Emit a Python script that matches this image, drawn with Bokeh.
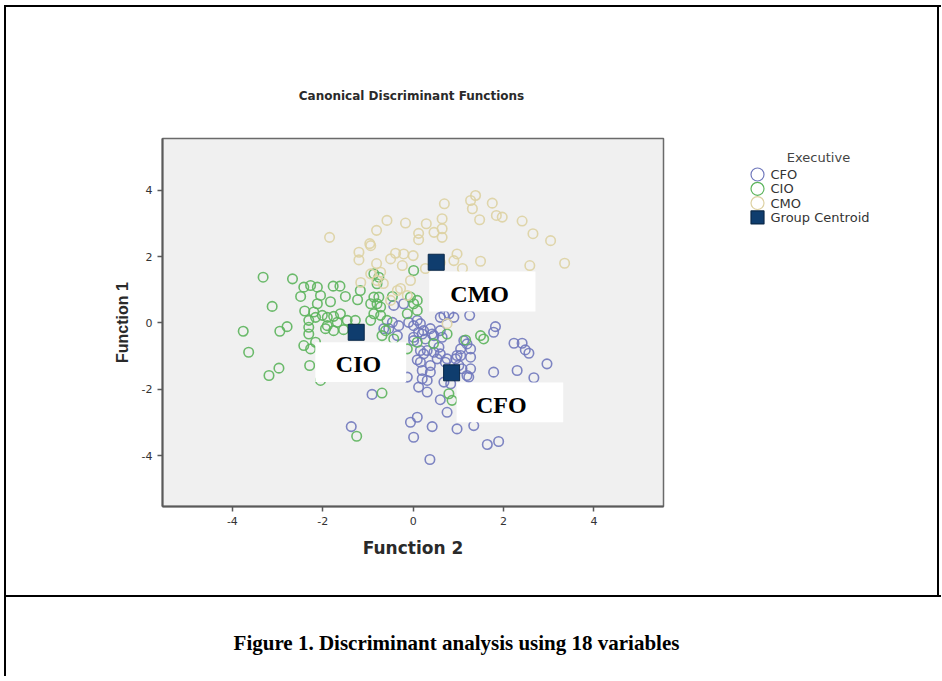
from bokeh.plotting import figure
from bokeh.models import Range1d, FixedTicker, Label, ColumnDataSource, Spacer
from bokeh.layouts import row, column
from bokeh.core.properties import value
from bokeh.embed import file_html
from bokeh.resources import INLINE

# ---------------- data (Function 2 on x, Function 1 on y) ----------------
cfo_x = [0.68, 1.25, 1.82, 1.78, 0.01, 0.27, 0.46, 1.12, 2.23, 2.41, 2.48, 2.56, 1.27, 1.27, 0.23, 0.46,
         2.96, 0.16, 0.20, 0.38, 0.31, 0.71, 0.94, 1.01, 1.08, 1.27, 1.23, 0.68, 0.83, 1.78, 2.30, 2.67,
         0.12, 0.31, 0.60, 0.75, 0.09, -0.06, 0.42, 0.97, 1.34, 0.01, 1.64, 1.89, 0.37, -0.91, -1.37,
         0.53, 0.97, 1.19, -0.43, -0.21, -0.65, -0.54, -0.32, -0.10, 0.01, 0.12, 0.20, 0.38, 0.60, 0.79,
         0.90, 0.64, 0.16, 0.31, 0.60, 0.75, 1.05, 1.19, 1.05, 0.09, 0.38, -0.46, 0.16, -0.35, 0.01,
         0.09, 0.23, 0.42, 0.60, -0.13, 0.20, 0.57]
cfo_y = [0.23, 0.23, -0.11, -0.28, -0.53, -0.48, -0.38, -0.53, -0.61, -0.61, -0.81, -0.91, -0.78, -1.03, -0.93, -0.88,
         -1.23, -1.18, -1.43, -1.48, -1.73, -1.18, -1.08, -1.28, -1.38, -1.38, -1.63, -1.78, -1.83, -1.48, -1.43, -1.65,
         -1.93, -2.08, -2.31, -2.69, -2.84, -2.99, -3.12, -3.19, -3.09, -3.44, -3.66, -3.57, -4.11, -2.15, -3.12,
         -1.08, -0.98, -1.58, 0.53, 0.58, -0.17, -0.17, -0.08, 0.02, -0.08, -0.28, -0.33, -0.17, 0.17, 0.28,
         0.17, -0.43, -0.83, -0.83, -0.93, -1.08, -0.78, -0.63, -0.98, -1.11, -1.28, 0.02, -0.02, -0.38, -0.43,
         0.08, -0.23, -0.33, -0.23, -1.63, -1.68, -0.73]

cio_x = [-3.32, -2.67, -3.12, -3.76, -2.95, -2.79, -2.42, -2.27, -2.12, -2.49, -2.12, -1.83, -1.77, -1.62,
         -2.40, -2.20, -2.01, -2.31, -2.16, -1.90, -1.76, -1.61, -2.31, -1.94, -1.76, -1.54, -2.31, -1.23,
         -0.87, -0.76, -0.94, -0.80, -0.72, -0.87, -0.72, -0.94, 0.01, -0.80, -0.06, 0.01, -0.13, 0.09,
         -3.64, -3.19, -2.97, -2.42, -2.27, -2.29, -2.05, -0.69, -1.25, -1.90, -1.68, -1.46, -2.16, -0.58,
         -0.61, -0.69, -0.43, -0.13, 0.09, 0.45, 0.75, 1.16, 1.49, 1.56, 0.79, 0.86, 0.09, -0.87, -0.76,
         -1.17, -1.50, -0.46, -1.28, -2.05]
cio_y = [1.38, 1.33, 0.50, -0.25, -0.25, -0.11, 1.08, 1.13, 1.08, 0.80, 0.58, 0.64, 1.11, 1.11,
         0.36, 0.33, 0.23, 0.08, 0.17, 0.17, 0.20, 0.28, -0.13, -0.17, -0.23, -0.20, -0.33, 0.70,
         0.78, 0.78, 0.58, 0.58, 0.48, 0.28, 0.23, 0.08, 1.58, 1.18, 0.78, 0.58, 0.28, 0.38,
         -0.88, -1.58, -1.36, -0.68, -0.78, -1.28, -1.73, -2.11, -3.41, -0.08, 0.02, 0.08, -0.58, 0.08,
         -0.23, -0.38, -0.48, -0.78, -0.58, -0.62, -0.33, -0.51, -0.38, -0.48, -2.13, -2.33, 0.68, 1.48, 1.38,
         0.98, 0.80, 0.80, 0.08, 0.83]

cmo_x = [-1.85, -0.96, -1.20, -1.20, -0.81, -0.58, -0.17, 0.29, 0.12, 0.12, 0.64, 0.64, 0.46, 0.64,
         0.69, 1.27, 1.38, 1.31, 1.75, 1.47, 1.84, 1.97, 2.41, 2.65, 3.04, 2.58, 3.35, 1.49, 0.97, 0.90,
         -0.39, -0.21, -0.50, 0.00, -0.24, -0.72, -0.94, -0.94, -0.66, -0.28, -0.06, 0.75, -0.80, -0.35,
         -0.13, 0.27, 0.60, 1.09, -0.50, -1.16, -0.81]
cmo_y = [2.58, 2.39, 2.13, 1.90, 2.79, 3.09, 3.01, 2.99, 2.70, 2.51, 3.14, 2.84, 2.73, 2.58,
         3.59, 3.69, 3.84, 3.44, 3.61, 3.11, 3.24, 3.19, 3.07, 2.69, 2.48, 1.73, 1.80, 1.86, 2.08, 1.88,
         2.10, 2.08, 1.93, 2.03, 1.73, 1.53, 1.48, 2.33, 1.19, 1.04, 1.28, -0.02, 1.28, 0.98,
         0.83, 1.64, 1.82, 1.64, 0.68, 1.22, 1.79]

centroid_names = ["CFO", "CIO", "CMO"]
centroid_x = [0.85, -1.26, 0.51]
centroid_y = [-1.50, -0.28, 1.83]

x_ticks = [-4, -2, 0, 2, 4]
y_ticks = [-4, -2, 0, 2, 4]

legend_labels = ["CFO", "CIO", "CMO", "Group Centroid"]
legend_markers = ["circle", "circle", "circle", "square"]

# group-name boxes pasted on the chart (data units)
box_names = ["CMO", "CIO", "CFO"]
box_x = [1.53, -1.16, 2.14]
box_y = [0.95, -1.18, -2.39]
box_w = [2.35, 2.01, 2.36]
box_h = [1.20, 1.20, 1.20]
box_text_x = [1.47, -1.21, 1.95]
box_text_y = [0.86, -1.25, -2.48]

# ---------------- styles ----------------
C_CFO, C_CIO, C_CMO = "#7078bc", "#5cb45c", "#ddd1a2"
C_CEN, C_CEN_LINE = "#0f3d6e", "#0a2848"
legend_fill = [None, None, None, C_CEN]
legend_line = [C_CFO, C_CIO, C_CMO, C_CEN_LINE]

W_ALL = 931          # inner width of the document box
TH = 128             # title strip height
HP = 460             # chart strip height
WP = 661             # chart figure width (frame 501 px)
WL = W_ALL - WP      # legend strip width
B_TOP, B_BOT = 3, 89 # chart borders above / below the frame

def blank(w, h, top=0, bottom=0):
    f = figure(width=w, height=h, output_backend="svg", toolbar_location=None, title=None,
               x_axis_location=None, y_axis_location=None,
               min_border_left=0, min_border_right=0, min_border_top=top, min_border_bottom=bottom,
               outline_line_color=None, background_fill_color="white",
               border_fill_color="white", x_range=Range1d(0, w), y_range=Range1d(h - top - bottom, 0))
    f.xgrid.visible = False
    f.ygrid.visible = False
    return f

# ---------------- title strip ----------------
tf = blank(W_ALL, TH)
tf.add_layout(Label(x=405, y=88, text="Canonical Discriminant Functions",
                    text_font="DejaVu Sans", text_font_style="bold", text_font_size="12px",
                    text_color="#2a2a2a", text_align="center", text_baseline="middle"))

# ---------------- chart figure ----------------
p = figure(width=WP, height=HP, output_backend="svg", toolbar_location=None, title=None,
           x_range=Range1d(-5.546, 5.538), y_range=Range1d(-5.527, 5.557),
           min_border_left=156, min_border_right=4, min_border_top=B_TOP, min_border_bottom=B_BOT,
           background_fill_color="#f0f0f0", border_fill_color="white",
           outline_line_color="#6a6a6a", outline_line_width=1.5)
p.xgrid.visible = False
p.ygrid.visible = False

for ax, ticks in ((p.xaxis[0], x_ticks), (p.yaxis[0], y_ticks)):
    ax.ticker = FixedTicker(ticks=ticks)
    ax.major_label_overrides = {t: str(t) for t in ticks}
    ax.axis_line_color = "#5a5a5a"
    ax.axis_line_width = 2
    ax.major_tick_line_color = "#5a5a5a"
    ax.major_tick_line_width = 1.5
    ax.major_tick_in = 0
    ax.major_tick_out = 5
    ax.minor_tick_line_color = None
    ax.major_label_text_font = "DejaVu Sans"
    ax.major_label_text_font_size = "11px"
    ax.major_label_text_color = "#333333"
    ax.axis_label_text_font_style = "bold"
    ax.axis_label_text_color = "#2a2a2a"

p.xaxis.axis_label = "Function 2"
p.xaxis.axis_label_text_font = "DejaVu Sans"
p.xaxis.axis_label_text_font_size = "17px"
p.xaxis.axis_label_standoff = 10
p.yaxis.axis_label = "Function 1"
p.yaxis.axis_label_text_font = "Liberation Sans"
p.yaxis.axis_label_text_font_size = "16px"
p.yaxis.axis_label_standoff = 8

ring = dict(marker="circle", size=9.5, fill_color=None, line_width=1.6, line_alpha=0.9)
p.scatter(cfo_x, cfo_y, line_color=C_CFO, **ring)
p.scatter(cio_x, cio_y, line_color=C_CIO, **ring)
p.scatter(cmo_x, cmo_y, line_color=C_CMO, **ring)
p.scatter(centroid_x, centroid_y, marker="square", size=16,
          fill_color=C_CEN, line_color=C_CEN_LINE, line_width=1)

box_src = ColumnDataSource(dict(x=box_x, y=box_y, w=box_w, h=box_h))
p.rect(x="x", y="y", width="w", height="h", source=box_src,
       fill_color="white", line_color=None)
txt_src = ColumnDataSource(dict(x=box_text_x, y=box_text_y, t=box_names))
p.text(x="x", y="y", text="t", source=txt_src, text_font=value("Liberation Serif"),
       text_font_style="bold", text_font_size="24px", text_align="center",
       text_baseline="middle", text_color="black")

# ---------------- legend strip (frame aligned with the chart frame) ----------------
lf = blank(WL, HP, top=B_TOP, bottom=B_BOT)
LX, LY0, LDY = 90, 36, 14.3
n_leg = len(legend_labels)
leg_src = ColumnDataSource(dict(
    x=[LX] * n_leg,
    y=[LY0 + i * LDY for i in range(n_leg)],
    tx=[LX + 13] * n_leg,
    m=legend_markers, fc=legend_fill, lc=legend_line, t=legend_labels))
lf.scatter(x="x", y="y", marker="m", size=13, fill_color="fc", line_color="lc",
           line_width=1.2, source=leg_src)
lf.text(x="tx", y="y", text="t", source=leg_src, text_font=value("DejaVu Sans"),
        text_font_size="13px", text_color="#333333", text_baseline="middle")
lf.add_layout(Label(x=151, y=LY0 - 17, text="Executive", text_font="DejaVu Sans",
                    text_font_size="13px", text_color="#444444",
                    text_align="center", text_baseline="middle"))

# ---------------- caption strip ----------------
cap = figure(width=W_ALL + 4, height=74, output_backend="svg", toolbar_location=None, title=None,
             x_axis_location=None, y_axis_location=None, min_border=0,
             outline_line_color=None, background_fill_color="white", border_fill_color="white")
cap.xgrid.visible = False
cap.ygrid.visible = False
cap.add_layout(Label(x=450, y=29, x_units="screen", y_units="screen",
                     text="Figure 1. Discriminant analysis using 18 variables",
                     text_font="Liberation Serif", text_font_style="bold", text_font_size="21px",
                     text_color="black", text_align="center", text_baseline="middle"))

# ---------------- document frame (black rules) ----------------
def rule(w, h):
    return Spacer(width=w, height=h, styles={"background-color": "black"})

page = column(
    Spacer(width=940, height=5),
    row(
        Spacer(width=4, height=671),
        rule(2, 671),
        column(
            rule(W_ALL + 4, 2),
            row(column(tf, row(p, lf)), rule(2, TH + HP)),
            rule(W_ALL + 4, 2),
            cap,
        ),
    ),
)

open("out.html", "w").write(file_html(page, INLINE))
